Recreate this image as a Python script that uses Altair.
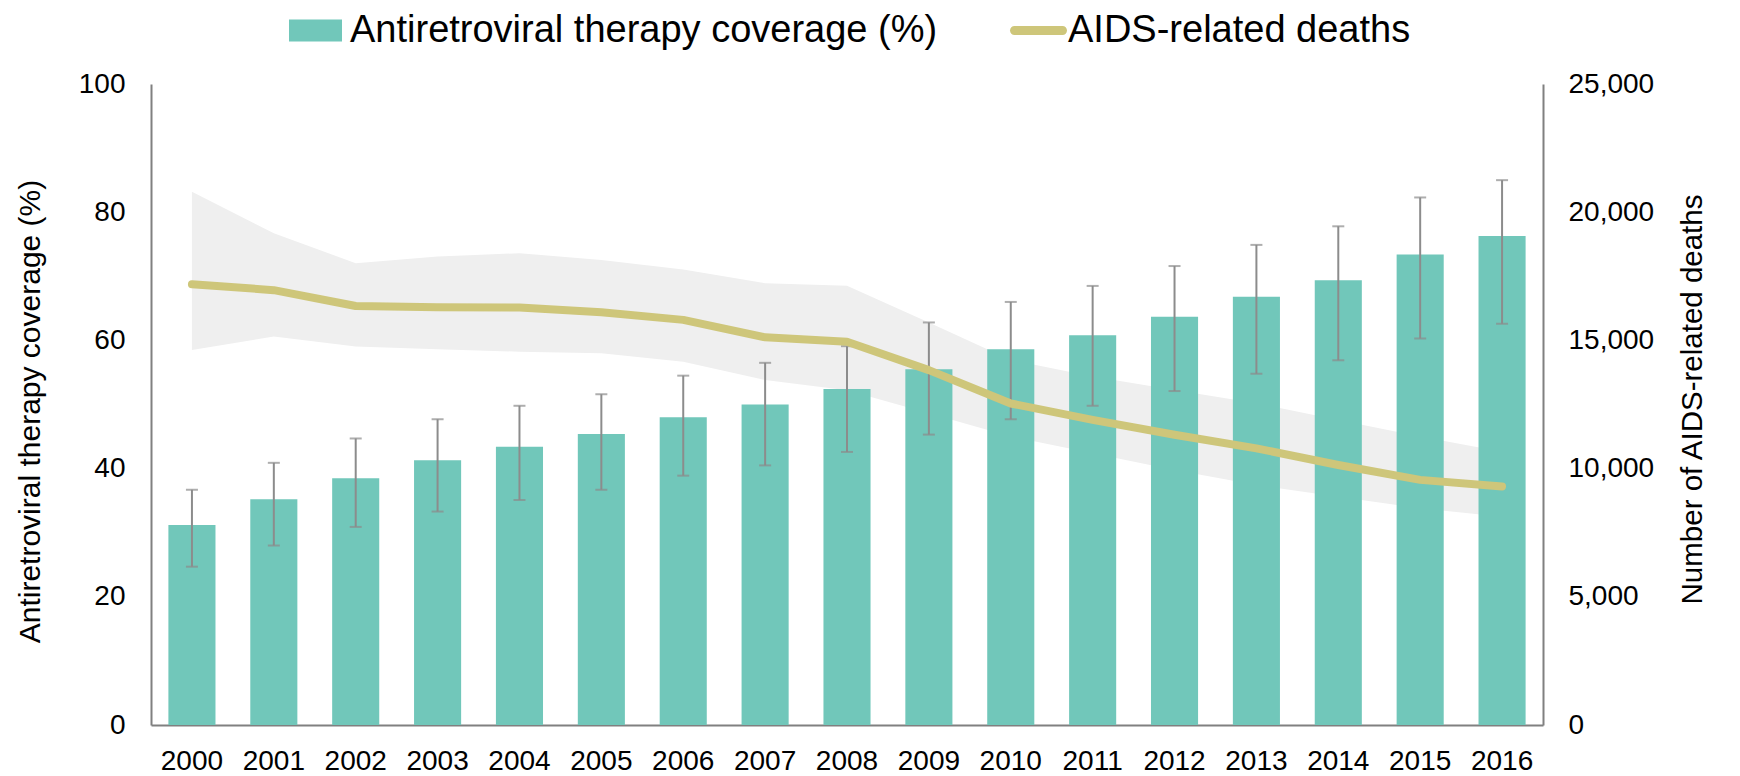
import altair as alt
import pandas as pd

years = [str(y) for y in range(2000, 2017)]
coverage = [31.2, 35.2, 38.5, 41.3, 43.4, 45.4, 48.0, 50.0, 52.4, 55.5, 58.6, 60.8, 63.7, 66.8, 69.4, 73.4, 76.3]
cov_low = [24.7, 28.0, 30.9, 33.3, 35.1, 36.7, 38.9, 40.5, 42.6, 45.3, 47.7, 49.8, 52.1, 54.8, 56.9, 60.3, 62.6]
cov_high = [36.7, 40.9, 44.7, 47.7, 49.8, 51.6, 54.5, 56.5, 59.1, 62.8, 66.0, 68.5, 71.6, 74.9, 77.8, 82.3, 85.0]
deaths = [17190, 16960, 16340, 16290, 16280, 16100, 15800, 15120, 14950, 13840, 12540, 11900, 11320, 10790, 10140, 9560, 9300]
deaths_low = [14630, 15150, 14760, 14650, 14560, 14500, 14170, 13460, 13060, 12160, 11250, 10600, 9950, 9360, 8900, 8450, 8120]
deaths_high = [20800, 19180, 18010, 18270, 18400, 18140, 17770, 17230, 17130, 15700, 14240, 13590, 13070, 12550, 11900, 11250, 10660]

LEG_BAR = "Antiretroviral therapy coverage (%)"
LEG_LINE = "AIDS-related deaths"
TEAL = "#71C7BA"
KHAKI = "#CEC67A"
BAND = "#EFEFEF"
ERR = "#8C8C8C"
AXIS = "#808080"
FONT = "Liberation Sans"

df = pd.DataFrame({
    "year": years,
    "coverage": coverage,
    "cov_low": cov_low,
    "cov_high": cov_high,
    "deaths": deaths,
    "deaths_low": deaths_low,
    "deaths_high": deaths_high,
    "s_bar": [LEG_BAR] * len(years),
    "s_line": [LEG_LINE] * len(years),
})

x = alt.X("year:O", title=None,
          scale=alt.Scale(paddingInner=0.425, paddingOuter=0.2125),
          axis=alt.Axis(labelAngle=0, ticks=False, labelPadding=22, labelFontSize=28,
                        labelColor="black", domainColor=AXIS, domainWidth=2, grid=False))

pct_scale = alt.Scale(domain=[0, 100], nice=False, zero=True)
dth_scale = alt.Scale(domain=[0, 25000], nice=False, zero=True)

base = alt.Chart(df)

area = base.mark_area(color=BAND).encode(
    x=x,
    y=alt.Y("deaths_low:Q", scale=dth_scale, axis=None),
    y2="deaths_high:Q",
)

bars = base.mark_bar().encode(
    x=x,
    y=alt.Y("coverage:Q", scale=pct_scale,
            axis=alt.Axis(orient="left", values=[0, 20, 40, 60, 80, 100], ticks=False, grid=False,
                          labelPadding=26, labelFontSize=28, labelColor="black",
                          domainColor=AXIS, domainWidth=2,
                          title="Antiretroviral therapy coverage (%)", titleFontSize=30,
                          titleFontWeight="normal", titleColor="black", titleAngle=270,
                          titleAlign="center", titleBaseline="middle", titleX=-121, titleY=327)),
    fill=alt.Fill("s_bar:N", scale=alt.Scale(domain=[LEG_BAR], range=[TEAL]),
                  legend=alt.Legend(title=None, orient="none", legendX=138, legendY=-80,
                                    symbolType="M-1,-0.415H1V0.415H-1Z", symbolSize=2809,
                                    symbolStrokeWidth=0, labelFontSize=38, labelColor="black",
                                    labelOffset=8, labelLimit=0, padding=0)),
)

rule = base.mark_rule(color=ERR, strokeWidth=2).encode(
    x=x,
    y=alt.Y("cov_low:Q", scale=pct_scale, axis=None),
    y2="cov_high:Q",
)
cap_low = base.mark_tick(color=ERR, orient="horizontal", size=12, thickness=2).encode(
    x=x,
    y=alt.Y("cov_low:Q", scale=pct_scale, axis=None),
)
cap_high = base.mark_tick(color=ERR, orient="horizontal", size=12, thickness=2).encode(
    x=x,
    y=alt.Y("cov_high:Q", scale=pct_scale, axis=None),
)

LINE_SYMBOL = ("M-0.842,-0.158H0.842A0.158,0.158 0 0 1 0.842,0.158"
               "H-0.842A0.158,0.158 0 0 1 -0.842,-0.158Z")

line = base.mark_line(strokeWidth=8, strokeCap="round", strokeJoin="round").encode(
    x=x,
    y=alt.Y("deaths:Q", scale=dth_scale,
            axis=alt.Axis(orient="right", values=[0, 5000, 10000, 15000, 20000, 25000], format=",.0f",
                          ticks=False, grid=False, labelPadding=25, labelFontSize=28,
                          labelColor="black", domainColor=AXIS, domainWidth=2,
                          title="Number of AIDS-related deaths", titleFontSize=29.5,
                          titleFontWeight="normal", titleColor="black", titleAngle=270,
                          titleAlign="center", titleBaseline="middle", titleX=149, titleY=315)),
    stroke=alt.Stroke("s_line:N", scale=alt.Scale(domain=[LEG_LINE], range=[KHAKI]),
                      legend=alt.Legend(title=None, orient="none", legendX=859, legendY=-82,
                                        symbolType=LINE_SYMBOL, symbolSize=3249,
                                        symbolFillColor=KHAKI, symbolStrokeWidth=0,
                                        labelFontSize=38, labelColor="black", labelOffset=1,
                                        labelLimit=0, padding=0)),
)

chart = alt.layer(area, bars, rule, cap_low, cap_high, line).resolve_scale(
    y="independent"
).properties(
    width=1392, height=641,
    padding={"left": 143, "top": 76, "right": 166, "bottom": 51},
    autosize=alt.AutoSizeParams(type="none"),
).configure(font=FONT).configure_view(stroke=None)

chart.save("out.html", embed_options={"renderer": "svg", "actions": False})
